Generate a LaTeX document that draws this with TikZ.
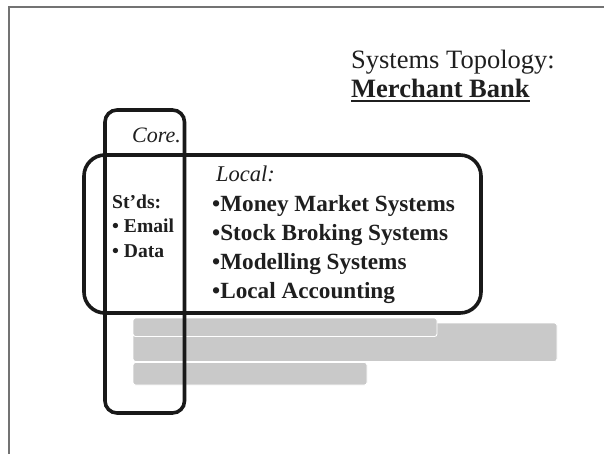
\documentclass[tikz,border=0pt]{standalone}
\usepackage{fontspec}
\setmainfont{Liberation Serif}
\begin{document}
\begin{tikzpicture}[x=1pt,y=-1pt,
  frameline/.style={draw=black!55,line width=1.6pt},
  boxline/.style={draw=black!90,line width=3.6pt},
  bar/.style={fill=black!21,draw=white,line width=0.9pt,rounded corners=2.5pt},
  txt/.style={anchor=base west,inner sep=0pt,text=black!88},
  title/.style={txt,font=\fontsize{26.5}{30}\selectfont},
  item/.style={txt,font=\bfseries\fontsize{23.2}{26}\selectfont},
  std/.style={txt,font=\bfseries\fontsize{19.6}{22}\selectfont}]
\useasboundingbox (0,0) rectangle (604,454);
\fill[white] (0,0) rectangle (604,454);
% slide frame
\coordinate (fbl) at (9,454);
\coordinate (ftl) at (9,7);
\coordinate (ftr) at (604,7);
\draw[frameline] (fbl) -- (ftl) -- (ftr);
% grey bars
\path[bar] (133,323) rectangle (557,361.5);
\path[bar] (133,318) rectangle (437,336.5);
\path[bar] (133,362.5) rectangle (367,385);
% boxes
\draw[boxline,rounded corners=21pt] (84,155) rectangle (481,313);
\draw[boxline,rounded corners=12pt] (105,110) rectangle (184.5,413);
% title
\node[title] (t1) at (351,68.5) {Systems Topology:};
\node[title,font=\bfseries\fontsize{26.5}{30}\selectfont] (t2) at (351,97.5) {Merchant Bank};
\draw[line width=1.8pt,black!88] ([yshift=-3.5pt]t2.base west) -- ([yshift=-3.5pt]t2.base east);
% core
\node[txt,font=\itshape\fontsize{22}{26}\selectfont] (core) at (132,143) {Core.};
\node[std] (s1) at (112,208) {St’ds:};
\node[std] (s2) at (112,233) {• Email};
\node[std] (s3) at (112,257.5) {• Data};
% local
\node[txt,font=\itshape\fontsize{22.5}{26}\selectfont] (loc) at (216,182) {Local:};
\node[item] (l1) at (212,211.5) {•Money Market Systems};
\node[item] (l2) at (212,240) {•Stock Broking Systems};
\node[item] (l3) at (212,269) {•Modelling Systems};
\node[item] (l4) at (212,298) {•Local Accounting};
\end{tikzpicture}
\end{document}
